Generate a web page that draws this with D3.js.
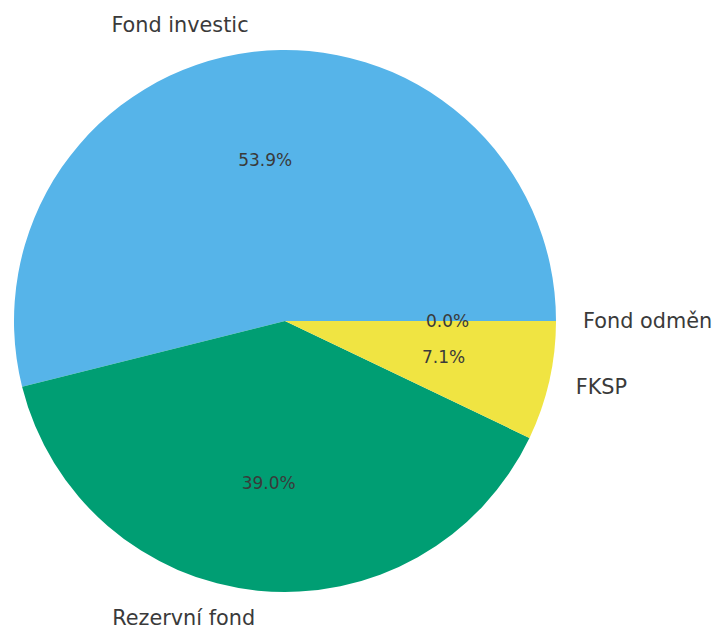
<!DOCTYPE html>
<html>
<head>
<meta charset="utf-8">
<script src="https://cdn.jsdelivr.net/npm/d3@7"></script>
<style>
  body { margin: 0; background: #fff; }
  svg text { font-family: "DejaVu Sans", sans-serif; }
</style>
</head>
<body>
<svg id="chart" width="718" height="628"></svg>
<script>
// data
var labels = ["Fond investic", "Rezervní fond", "FKSP", "Fond odměn"];
var values = [53.9, 39.0, 7.1, 0.0];
var colors = ["#56B4E9", "#009E73", "#F0E442", "#0072B2"];

var svg = d3.select("#chart"),
    cx = 285, cy = 321, r = 271;

var g = svg.append("g").attr("transform", "translate(" + cx + "," + cy + ")");

var total = d3.sum(values);

// matplotlib style: start at east, counterclockwise
// d3 angles: 0 = north, clockwise -> map with PI/2 - a
var pie = d3.pie().sort(null)
    .startAngle(Math.PI / 2)
    .endAngle(Math.PI / 2 - 2 * Math.PI);

var arcs = pie(values);
var arc = d3.arc().innerRadius(0).outerRadius(r);

g.selectAll("path")
  .data(arcs)
  .enter()
  .append("path")
    .attr("d", arc)
    .style("fill", function(d, i) { return colors[i]; })
    .style("stroke", "none");

function mid(d) { return (d.startAngle + d.endAngle) / 2; }

// category labels at 1.1 r
g.selectAll("text.lab")
  .data(arcs)
  .enter()
  .append("text")
    .attr("class", "lab")
    .attr("x", function(d) { return Math.sin(mid(d)) * r * 1.1; })
    .attr("y", function(d) { return -Math.cos(mid(d)) * r * 1.1; })
    .attr("dy", "0.35em")
    .attr("text-anchor", function(d) { return Math.sin(mid(d)) > 0 ? "start" : "end"; })
    .style("font-size", "20.8px")
    .style("fill", "#3a3a3a")
    .text(function(d, i) { return labels[i]; });

// percentage labels at 0.6 r
g.selectAll("text.pct")
  .data(arcs)
  .enter()
  .append("text")
    .attr("class", "pct")
    .attr("x", function(d) { return Math.sin(mid(d)) * r * 0.6; })
    .attr("y", function(d) { return -Math.cos(mid(d)) * r * 0.6; })
    .attr("dy", "0.35em")
    .attr("text-anchor", "middle")
    .style("font-size", "17px")
    .style("fill", "#3a3a3a")
    .text(function(d) { return (d.value / total * 100).toFixed(1) + "%"; });
</script>
</body>
</html>
